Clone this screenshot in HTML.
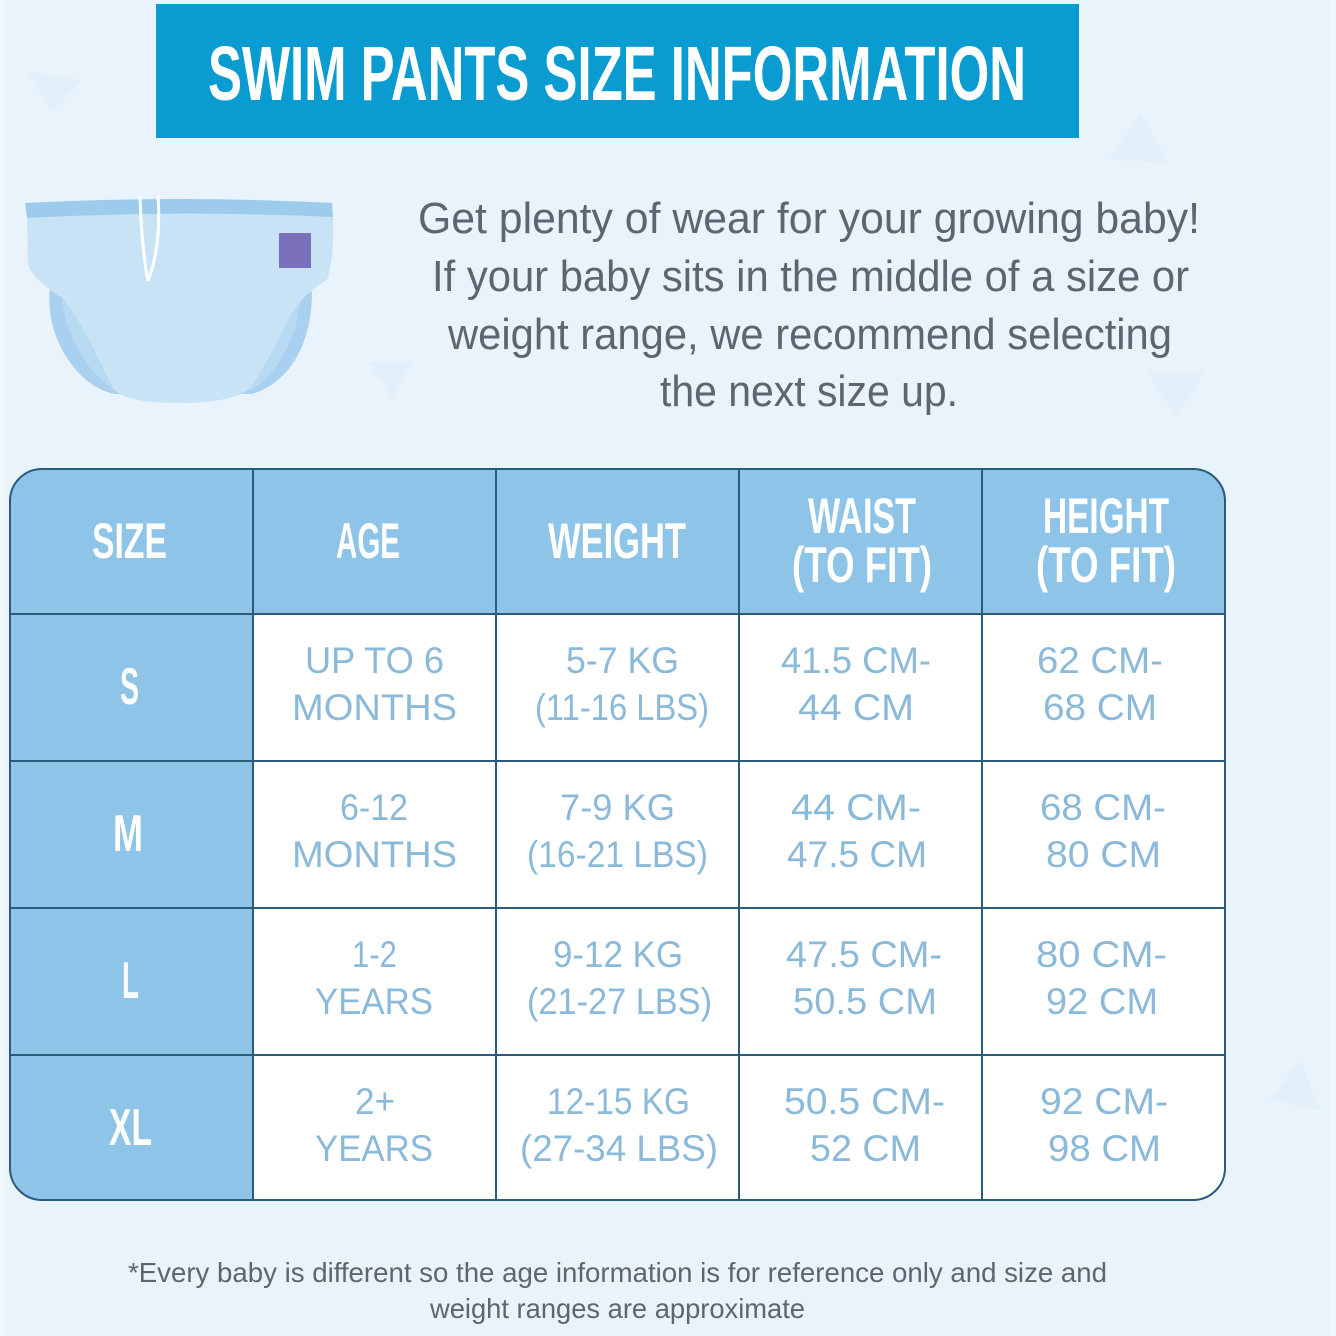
<!DOCTYPE html>
<html><head><meta charset="utf-8"><style>
html,body{margin:0;padding:0;background:#e8f3fb;}
svg{display:block;}
text{font-family:"Liberation Sans",sans-serif;}
.h{font-weight:bold;fill:#fff;}
.c{fill:#8bb9d9;font-size:37px;}
.p{fill:#5d6670;font-size:44px;}
.f{fill:#5d6670;font-size:28px;}
</style></head><body>
<svg width="1336" height="1336" viewBox="0 0 1336 1336" xmlns="http://www.w3.org/2000/svg">
<defs>
<clipPath id="tc"><rect x="10" y="469" width="1215" height="731" rx="32" ry="32"/></clipPath>
</defs>
<rect x="0" y="0" width="1336" height="1336" fill="#e8f3fb"/>
<rect x="0" y="0" width="4" height="1336" fill="#f1f8fc"/>
<rect x="1331" y="0" width="5" height="1336" fill="#f1f8fc"/>
<!-- faint decorative triangles -->
<g fill="#e3f0f9">
<polygon points="28,72 82,80 52,112"/>
<polygon points="1110,160 1140,112 1168,162"/>
<polygon points="1148,372 1204,372 1176,418"/>
<polygon points="368,362 412,362 392,398"/>
<polygon points="1270,1100 1300,1060 1320,1110"/>
</g>
<!-- banner -->
<rect x="156" y="4" width="923" height="134" fill="#0a9bd0"/>
<text class="h" x="208" y="100" font-size="77" textLength="818" lengthAdjust="spacingAndGlyphs">SWIM PANTS SIZE INFORMATION</text>
<!-- diaper -->
<path d="M50,288 C44,340 80,388 115,394 L252,394 C292,382 312,340 312,292 Z" fill="#a9d0ef"/>
<path d="M62,298 C66,340 90,375 115,390 L252,390 C280,370 298,335 300,300 Z" fill="#b8d9f2"/>
<path d="M27,214 L333,214 C334,250 331,268 327,280 C310,290 296,302 284,328 C270,356 258,378 250,388 C238,400 205,403 180,403 C150,403 122,400 113,388 C100,362 82,322 62,298 C46,287 31,276 28,264 Z" fill="#c9e3f6"/>
<path d="M25,203 Q180,195 332,203 L333,217 Q180,210 27,218 Z" fill="#9ccbec"/>
<rect x="279" y="233" width="32" height="35" fill="#7a6fbb"/>
<path d="M140,196 C141,230 144,260 148,281 M158,196 C160,225 158,255 148,281" stroke="#fff" stroke-width="3" fill="none"/>
<!-- paragraph -->
<text class="p" x="418" y="233" textLength="782" lengthAdjust="spacingAndGlyphs">Get plenty of wear for your growing baby!</text>
<text class="p" x="432" y="291" textLength="757" lengthAdjust="spacingAndGlyphs">If your baby sits in the middle of a size or</text>
<text class="p" x="448" y="349" textLength="724" lengthAdjust="spacingAndGlyphs">weight range, we recommend selecting</text>
<text class="p" x="660" y="406" textLength="298" lengthAdjust="spacingAndGlyphs">the next size up.</text>
<!-- table -->
<g clip-path="url(#tc)">
<rect x="10" y="469" width="1215" height="731" fill="#fff"/>
<rect x="10" y="469" width="1215" height="145" fill="#8ec4e8"/>
<rect x="10" y="614" width="243" height="586" fill="#8ec4e8"/>
</g>
<g stroke="#2a5a7c" stroke-width="2">
<line x1="253" y1="469" x2="253" y2="1200"/>
<line x1="496" y1="469" x2="496" y2="1200"/>
<line x1="739" y1="469" x2="739" y2="1200"/>
<line x1="982" y1="469" x2="982" y2="1200"/>
<line x1="10" y1="614" x2="1225" y2="614"/>
<line x1="10" y1="761" x2="1225" y2="761"/>
<line x1="10" y1="908" x2="1225" y2="908"/>
<line x1="10" y1="1055" x2="1225" y2="1055"/>
</g>
<rect x="10" y="469" width="1215" height="731" rx="32" ry="32" fill="none" stroke="#2a5a7c" stroke-width="2"/>
<!-- header labels -->
<text class="h" x="92" y="558" font-size="50" textLength="75" lengthAdjust="spacingAndGlyphs">SIZE</text>
<text class="h" x="336" y="558" font-size="50" textLength="64" lengthAdjust="spacingAndGlyphs">AGE</text>
<text class="h" x="548" y="558" font-size="50" textLength="138" lengthAdjust="spacingAndGlyphs">WEIGHT</text>
<text class="h" x="808" y="533" font-size="50" textLength="108" lengthAdjust="spacingAndGlyphs">WAIST</text>
<text class="h" x="792" y="582" font-size="50" textLength="140" lengthAdjust="spacingAndGlyphs">(TO FIT)</text>
<text class="h" x="1043" y="533" font-size="50" textLength="126" lengthAdjust="spacingAndGlyphs">HEIGHT</text>
<text class="h" x="1036" y="582" font-size="50" textLength="140" lengthAdjust="spacingAndGlyphs">(TO FIT)</text>
<!-- size letters -->
<text class="h" x="120" y="704" font-size="52" textLength="19" lengthAdjust="spacingAndGlyphs">S</text>
<text class="h" x="113" y="851" font-size="52" textLength="30" lengthAdjust="spacingAndGlyphs">M</text>
<text class="h" x="122" y="998" font-size="52" textLength="17" lengthAdjust="spacingAndGlyphs">L</text>
<text class="h" x="109" y="1145" font-size="52" textLength="43" lengthAdjust="spacingAndGlyphs">XL</text>
<!-- row S -->
<text class="c" x="305" y="673" textLength="139" lengthAdjust="spacingAndGlyphs">UP TO 6</text>
<text class="c" x="292" y="720" textLength="165" lengthAdjust="spacingAndGlyphs">MONTHS</text>
<text class="c" x="566" y="673" textLength="113" lengthAdjust="spacingAndGlyphs">5-7 KG</text>
<text class="c" x="535" y="720" textLength="174" lengthAdjust="spacingAndGlyphs">(11-16 LBS)</text>
<text class="c" x="781" y="673" textLength="150" lengthAdjust="spacingAndGlyphs">41.5 CM-</text>
<text class="c" x="798" y="720" textLength="116" lengthAdjust="spacingAndGlyphs">44 CM</text>
<text class="c" x="1037" y="673" textLength="126" lengthAdjust="spacingAndGlyphs">62 CM-</text>
<text class="c" x="1043" y="720" textLength="114" lengthAdjust="spacingAndGlyphs">68 CM</text>
<!-- row M -->
<text class="c" x="340" y="820" textLength="68" lengthAdjust="spacingAndGlyphs">6-12</text>
<text class="c" x="292" y="867" textLength="165" lengthAdjust="spacingAndGlyphs">MONTHS</text>
<text class="c" x="560" y="820" textLength="115" lengthAdjust="spacingAndGlyphs">7-9 KG</text>
<text class="c" x="527" y="867" textLength="181" lengthAdjust="spacingAndGlyphs">(16-21 LBS)</text>
<text class="c" x="791" y="820" textLength="130" lengthAdjust="spacingAndGlyphs">44 CM-</text>
<text class="c" x="787" y="867" textLength="140" lengthAdjust="spacingAndGlyphs">47.5 CM</text>
<text class="c" x="1040" y="820" textLength="126" lengthAdjust="spacingAndGlyphs">68 CM-</text>
<text class="c" x="1046" y="867" textLength="115" lengthAdjust="spacingAndGlyphs">80 CM</text>
<!-- row L -->
<text class="c" x="352" y="967" textLength="45" lengthAdjust="spacingAndGlyphs">1-2</text>
<text class="c" x="315" y="1014" textLength="118" lengthAdjust="spacingAndGlyphs">YEARS</text>
<text class="c" x="553" y="967" textLength="130" lengthAdjust="spacingAndGlyphs">9-12 KG</text>
<text class="c" x="527" y="1014" textLength="185" lengthAdjust="spacingAndGlyphs">(21-27 LBS)</text>
<text class="c" x="786" y="967" textLength="156" lengthAdjust="spacingAndGlyphs">47.5 CM-</text>
<text class="c" x="793" y="1014" textLength="144" lengthAdjust="spacingAndGlyphs">50.5 CM</text>
<text class="c" x="1036" y="967" textLength="131" lengthAdjust="spacingAndGlyphs">80 CM-</text>
<text class="c" x="1046" y="1014" textLength="112" lengthAdjust="spacingAndGlyphs">92 CM</text>
<!-- row XL -->
<text class="c" x="355" y="1114" textLength="40" lengthAdjust="spacingAndGlyphs">2+</text>
<text class="c" x="315" y="1161" textLength="118" lengthAdjust="spacingAndGlyphs">YEARS</text>
<text class="c" x="547" y="1114" textLength="143" lengthAdjust="spacingAndGlyphs">12-15 KG</text>
<text class="c" x="520" y="1161" textLength="198" lengthAdjust="spacingAndGlyphs">(27-34 LBS)</text>
<text class="c" x="784" y="1114" textLength="161" lengthAdjust="spacingAndGlyphs">50.5 CM-</text>
<text class="c" x="810" y="1161" textLength="111" lengthAdjust="spacingAndGlyphs">52 CM</text>
<text class="c" x="1040" y="1114" textLength="128" lengthAdjust="spacingAndGlyphs">92 CM-</text>
<text class="c" x="1048" y="1161" textLength="113" lengthAdjust="spacingAndGlyphs">98 CM</text>
<!-- footnote -->
<text class="f" x="128" y="1282" textLength="979" lengthAdjust="spacingAndGlyphs">*Every baby is different so the age information is for reference only and size and</text>
<text class="f" x="430" y="1318" textLength="375" lengthAdjust="spacingAndGlyphs">weight ranges are approximate</text>
</svg>
</body></html>
